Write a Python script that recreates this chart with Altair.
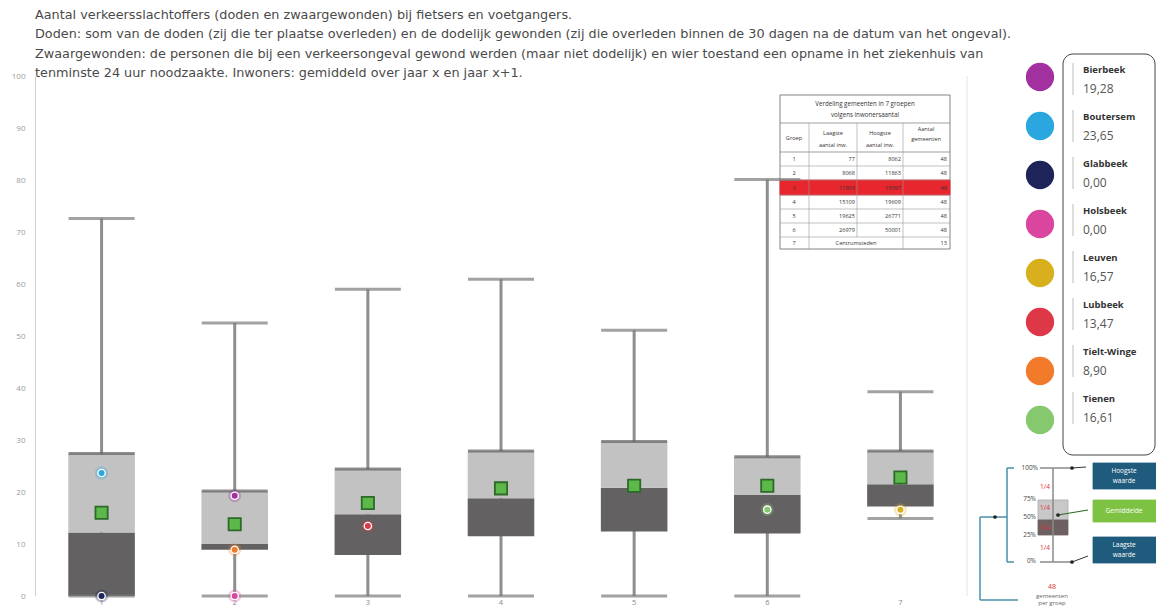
import altair as alt
import pandas as pd

# ---------------- data ----------------
groepen = ["1", "2", "3", "4", "5", "6", "7"]
minimum = [0.0, 0.0, 0.0, 0.0, 0.0, 0.0, 14.9]
kwartiel1 = [0.0, 8.9, 7.9, 11.5, 12.4, 12.0, 17.2]
mediaan = [12.2, 10.0, 15.7, 18.8, 20.8, 19.4, 21.5]
kwartiel3 = [27.4, 20.2, 24.4, 27.9, 29.7, 26.8, 27.9]
maximum = [72.6, 52.5, 59.0, 60.9, 51.1, 80.1, 39.3]
gemiddelde = [16.0, 13.8, 17.9, 20.7, 21.2, 21.2, 22.8]

gemeenten = ["Bierbeek", "Boutersem", "Glabbeek", "Holsbeek", "Leuven", "Lubbeek", "Tielt-Winge", "Tienen"]
waarden = [19.28, 23.65, 0.00, 0.00, 16.57, 13.47, 8.90, 16.61]
gemeente_groep = ["2", "1", "1", "2", "7", "3", "2", "6"]
kleuren = ["#a2309f", "#2ba7df", "#1c2459", "#d9459f", "#d8b01e", "#dd3748", "#f17a2b", "#86c86d"]

titel = [
    "Aantal verkeersslachtoffers (doden en zwaargewonden) bij fietsers en voetgangers.",
    "Doden: som van de doden (zij die ter plaatse overleden) en de dodelijk gewonden (zij die overleden binnen de 30 dagen na de datum van het ongeval).",
    "Zwaargewonden: de personen die bij een verkeersongeval gewond werden (maar niet dodelijk) en wier toestand een opname in het ziekenhuis van",
    "tenminste 24 uur noodzaakte. Inwoners: gemiddeld over jaar x en jaar x+1.",
]

tabel_groep = ["1", "2", "3", "4", "5", "6", "7"]
tabel_laagste = ["77", "8068", "11903", "15109", "19625", "26979", ""]
tabel_hoogste = ["8062", "11863", "15097", "19609", "26771", "50001", ""]
tabel_aantal = ["48", "48", "48", "48", "48", "48", "13"]

# ---------------- layout (page pixels) ----------------
W, H = 932, 520
PX = alt.Scale(domain=[0, 1164], range=[-35, 1129], nice=False, zero=False)
PY = alt.Scale(domain=[0, 615], range=[-76, 539], nice=False, zero=False)
FONT = "Open Sans"
TFONT = "DejaVu Sans"

stats = pd.DataFrame({"groep": groepen, "min": minimum, "q1": kwartiel1, "med": mediaan,
                      "q3": kwartiel3, "max": maximum, "gem": gemiddelde})
dots = pd.DataFrame({"naam": gemeenten, "waarde": waarden, "groep": gemeente_groep})
leg = pd.DataFrame({"naam": gemeenten,
                    "txt": [f"{v:.2f}".replace(".", ",") for v in waarden]})

xenc = alt.X("groep:N", sort=groepen,
             scale=alt.Scale(paddingInner=0.5, paddingOuter=0.25),
             axis=alt.Axis(title=None, labelAngle=0, ticks=False, domain=False, grid=False,
                           labelColor="#8a8a8a", labelFontSize=7.5, labelPadding=2, labelFont=FONT))
yscale = alt.Scale(domain=[0, 100], nice=False)
yaxis = alt.Axis(title=None, values=list(range(0, 101, 10)), ticks=False, domain=True,
                 domainColor="#d0d0d0", gridColor="#eeeeee", labelColor="#9a9a9a",
                 labelFontSize=8, labelPadding=10, labelFont=FONT)
colscale = alt.Scale(domain=gemeenten, range=kleuren)

base = alt.Chart(stats).encode(x=xenc)
whisk = base.mark_rule(color="#8e8e8e", strokeWidth=3).encode(
    y=alt.Y("min:Q", scale=yscale, axis=yaxis), y2="max:Q")
lowbox = base.mark_bar(color="#636161").encode(y="q1:Q", y2="med:Q")
highbox = base.mark_bar(color="#c2c2c2").encode(y="med:Q", y2="q3:Q")
capmax = base.mark_tick(color="#7a7a7a", size=66, thickness=3).encode(y="max:Q")
capmin = base.mark_tick(color="#7a7a7a", size=66, thickness=3).encode(y="min:Q")
capq3 = base.mark_tick(color="#5e5e5e", size=66, thickness=3).encode(y="q3:Q")
means = base.mark_square(size=150, color="#5cb848", stroke="#2d6a2a", strokeWidth=1.8,
                         opacity=1).encode(y="gem:Q")

dbase = alt.Chart(dots).encode(x=alt.X("groep:N", sort=groepen), y="waarde:Q",
                               color=alt.Color("naam:N", scale=colscale, legend=None))
halo = dbase.mark_circle(size=170, opacity=0.3)
ring = dbase.mark_circle(size=75, opacity=1).encode(color=alt.value("white"))
core = dbase.mark_circle(size=36, opacity=1)

main = alt.layer(whisk, lowbox, highbox, capmax, capmin, capq3, means, halo, ring, core)

# ---------------- decoration (page coordinates) ----------------
rects = pd.DataFrame([
    # table
    (780, 950, 95, 249, "white", "#666666"),
    (780, 950, 180, 195, "#e8262d", "#e8262d"),
    # diagram
    (1038, 1068, 500, 520, "#c8c8c8", "#aaaaaa"),
    (1038, 1068, 520, 535, "#6e5f60", "#6e5f60"),
    (1093, 1156, 463, 489, "#1f5b7c", "#1f5b7c"),
    (1093, 1156, 500, 522, "#7dc242", "#7dc242"),
    (1093, 1156, 537, 563, "#1f5b7c", "#1f5b7c"),
], columns=["x", "x2", "y", "y2", "fill", "stroke"])

rules = pd.DataFrame([
    # table grid
    (780, 950, 123, 123, "#777777", 0.7), (780, 950, 152, 152, "#777777", 0.7),
    (780, 950, 166, 166, "#999999", 0.6), (780, 950, 180, 180, "#999999", 0.6),
    (780, 950, 195, 195, "#999999", 0.6), (780, 950, 209, 209, "#999999", 0.6),
    (780, 950, 223, 223, "#999999", 0.6), (780, 950, 237, 237, "#999999", 0.6),
    (809, 809, 123, 249, "#999999", 0.6), (857, 857, 123, 237, "#999999", 0.6),
    (903, 903, 123, 249, "#999999", 0.6),
    # right frame of plot
    (967, 967, 76, 596, "#e4e4e4", 1),
    # diagram: whisker
    (1053, 1053, 468, 562, "#8a8a8a", 1.5),
    (1040, 1072, 468, 468, "#8a8a8a", 1.5), (1040, 1072, 562, 562, "#8a8a8a", 1.5),
    # diagram: pointers
    (1072, 1086, 468, 467, "#333333", 1), (1058, 1088, 515, 510, "#2d6a2a", 1.2),
    (1072, 1088, 562, 556, "#333333", 1),
    # diagram: bracket
    (1007, 1007, 468, 562, "#4a8fa8", 1.5), (1007, 1014, 468, 468, "#4a8fa8", 1.5),
    (1007, 1014, 562, 562, "#4a8fa8", 1.5), (980, 1007, 517, 517, "#4a8fa8", 1.5),
    (980, 980, 517, 600, "#4a8fa8", 1.5), (980, 1018, 600, 600, "#4a8fa8", 1.5),
], columns=["x", "x2", "y", "y2", "kleur", "sw"])

pts = pd.DataFrame([(995, 517), (1072, 468), (1072, 562), (1058, 515)], columns=["x", "y"])

txt_c = pd.DataFrame([
    (865, 104, "Verdeling gemeenten in 7 groepen", "#333333", 6.2),
    (865, 115, "volgens inwonersaantal", "#333333", 6.2),
    (794, 138, "Groep", "#333333", 5.6),
    (833, 133, "Laagste", "#333333", 5.6), (833, 145, "aantal inw.", "#333333", 5.6),
    (880, 133, "Hoogste", "#333333", 5.6), (880, 145, "aantal inw.", "#333333", 5.6),
    (926, 129, "Aantal", "#333333", 5.6), (926, 139, "gemeenten", "#333333", 5.6),
    (856, 243, "Centrumsteden", "#333333", 5.6),
    (1045, 487, "1/4", "#e03030", 6.5), (1045, 508, "1/4", "#e03030", 6.5),
    (1045, 528, "1/4", "#e03030", 6.5), (1045, 548, "1/4", "#e03030", 6.5),
    (1124, 471, "Hoogste", "white", 6.5), (1124, 481, "waarde", "white", 6.5),
    (1124, 511, "Gemiddelde", "white", 6.5),
    (1124, 545, "Laagste", "white", 6.5), (1124, 555, "waarde", "white", 6.5),
    (1052, 587, "48", "#e03030", 7), (1052, 596, "gemeenten", "#666666", 6),
    (1052, 603, "per groep", "#666666", 6),
], columns=["x", "y", "t", "kleur", "fs"])
rowy = [159, 173, 187.5, 202, 216, 230, 243]
tc = pd.DataFrame({"x": [794] * 7, "y": rowy, "t": tabel_groep})
tr = pd.DataFrame({"x": [855] * 7 + [901] * 7 + [947] * 7, "y": rowy * 3,
                   "t": tabel_laagste + tabel_hoogste + tabel_aantal})
txt_r = pd.DataFrame([
    (1038, 468, "100%"), (1036, 499, "75%"), (1036, 517, "50%"),
    (1036, 535, "25%"), (1036, 561, "0%"),
], columns=["x", "y", "t"])
txt_title = pd.DataFrame({"x": [35] * 4, "y": [15, 34, 54, 73], "t": titel})


def pxy(ch):
    return ch.encode(x=alt.X("x:Q", scale=PX, axis=None), y=alt.Y("y:Q", scale=PY, axis=None))


legbox = alt.Chart(pd.DataFrame({"x": [1063], "x2": [1155], "y": [54], "y2": [455]})).mark_rect(
    fill="white", stroke="#444444", strokeWidth=1, cornerRadius=10).encode(
    x=alt.X("x:Q", scale=PX, axis=None), x2="x2:Q", y=alt.Y("y:Q", scale=PY, axis=None), y2="y2:Q")
rect_l = alt.Chart(rects).mark_rect(strokeWidth=0.8).encode(
    x=alt.X("x:Q", scale=PX, axis=None), x2="x2:Q", y=alt.Y("y:Q", scale=PY, axis=None), y2="y2:Q",
    fill=alt.Fill("fill:N", scale=None), stroke=alt.Stroke("stroke:N", scale=None))
rule_l = alt.Chart(rules).mark_rule().encode(
    x=alt.X("x:Q", scale=PX, axis=None), x2="x2:Q", y=alt.Y("y:Q", scale=PY, axis=None), y2="y2:Q",
    color=alt.Color("kleur:N", scale=None), strokeWidth=alt.StrokeWidth("sw:Q", scale=None))
pts_l = pxy(alt.Chart(pts).mark_circle(size=14, color="#222222", opacity=1))
txtc_l = pxy(alt.Chart(txt_c).mark_text(align="center", baseline="middle", font=FONT)).encode(
    text="t:N", color=alt.Color("kleur:N", scale=None), size=alt.Size("fs:Q", scale=None))
tc_l = pxy(alt.Chart(tc).mark_text(align="center", baseline="middle", font=FONT, fontSize=5.6,
                                    color="#333333")).encode(text="t:N")
tr_l = pxy(alt.Chart(tr).mark_text(align="right", baseline="middle", font=FONT, fontSize=5.6,
                                    color="#333333")).encode(text="t:N")
txtr_l = pxy(alt.Chart(txt_r).mark_text(align="right", baseline="middle", font=FONT, fontSize=6.5,
                                         color="#444444")).encode(text="t:N")
title_l = pxy(alt.Chart(txt_title).mark_text(align="left", baseline="middle", font=TFONT,
                                              fontSize=12.8, color="#4a4a4a")).encode(text="t:N")

deco = alt.layer(legbox, rect_l, rule_l, pts_l, txtc_l, tc_l, tr_l, txtr_l, title_l)

# ---------------- legend: circles ----------------
lyc = alt.Y("naam:N", sort=gemeenten, axis=None,
            scale=alt.Scale(type="point", domain=gemeenten, range=[1, 344], padding=0))
lcirc = alt.Chart(leg).mark_circle(size=800, opacity=1).encode(
    y=lyc, x=alt.value(1005), color=alt.Color("naam:N", scale=colscale, legend=None))

# ---------------- legend: texts ----------------
lyt = alt.Y("naam:N", sort=gemeenten, axis=None,
            scale=alt.Scale(type="point", domain=gemeenten, range=[3, 332], padding=0))
ltb = alt.Chart(leg).encode(y=lyt)
lbar = ltb.mark_tick(orient="vertical", size=32, thickness=2, color="#cfcfcf").encode(
    x=alt.value(1038))
lname = ltb.mark_text(align="left", baseline="middle", font=FONT, fontSize=9.5, fontWeight="bold",
                      color="#333333", dy=-9).encode(x=alt.value(1048), text="naam:N")
lval = ltb.mark_text(align="left", baseline="middle", font=FONT, fontSize=12, color="#555555",
                     dy=10).encode(x=alt.value(1048), text="txt:N")
legtxt = alt.layer(lbar, lname, lval)

chart = alt.layer(deco, main, lcirc, legtxt).resolve_scale(
    x="independent", y="independent", color="independent", fill="independent",
    stroke="independent", size="independent", strokeWidth="independent"
).properties(
    width=W, height=H, autosize="none",
    padding={"left": 27, "top": 68, "right": 189, "bottom": 11},
).configure_view(stroke=None)

chart.save("out.html", embed_options={"renderer": "svg", "actions": False})
